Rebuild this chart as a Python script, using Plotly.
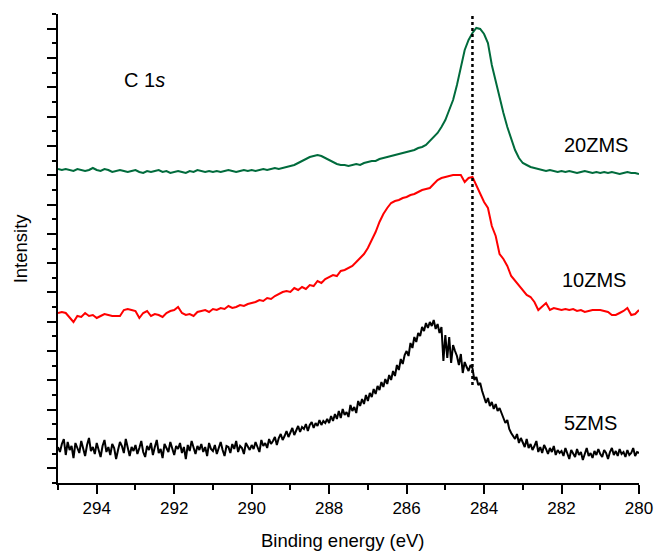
import numpy as np
import plotly.graph_objects as go

# Binding energy grids (eV), high -> low
energy_01 = np.round(np.linspace(295.0, 280.0, 151), 2)
energy_005 = np.round(np.linspace(295.0, 280.0, 301), 3)

# 20ZMS (intensity, a.u.)
zms20 = [
    314, 313, 314, 313, 312, 314, 313, 312, 313, 315,
    313, 312, 314, 313, 311, 312, 313, 312, 311, 312,
    313, 311, 310, 312, 311, 312, 313, 311, 312, 310,
    311, 312, 311, 310, 312, 311, 313, 312, 311, 312,
    311, 312, 311, 312, 313, 312, 311, 312, 313, 312,
    313, 312, 313, 314, 313, 314, 315, 314, 315, 316,
    317, 318, 320, 322, 324, 326, 327, 328, 327, 325,
    323, 321, 319, 318, 318, 317, 318, 319, 318, 320,
    321, 322, 322, 324, 325, 326, 327, 328, 329, 330,
    331, 332, 333, 335, 336, 338, 342, 345, 350, 356,
    363, 373, 383, 398, 416, 433, 443, 450, 455, 454,
    449, 440, 418, 401, 385, 370, 356, 345, 333, 325,
    320, 318, 316, 315, 314, 313, 312, 313, 312, 311,
    312, 311, 312, 311, 310, 311, 312, 311, 310, 311,
    310, 311, 310, 311, 310, 309, 310, 311, 310, 310,
    309,
]

# 10ZMS (intensity, a.u.)
zms10 = [
    170, 171, 170, 165, 161, 167, 166, 170, 167, 168,
    165, 167, 169, 168, 167, 167, 167, 173, 174, 173,
    172, 165, 170, 172, 167, 169, 168, 166, 170, 172,
    173, 176, 170, 168, 169, 167, 171, 172, 173, 171,
    174, 173, 175, 174, 177, 175, 176, 178, 177, 179,
    180, 181, 183, 182, 185, 184, 187, 189, 191, 192,
    191, 195, 193, 196, 194, 198, 197, 202, 200, 204,
    206, 208, 207, 212, 213, 215, 217, 221, 225, 229,
    235, 243, 251, 261, 269, 275, 280, 282, 283, 285,
    286, 288, 289, 291, 293, 294, 295, 299, 303, 305,
    306, 307, 308, 308, 308, 301, 305, 306, 298, 290,
    281, 275, 257, 247, 229, 224, 217, 207, 202, 198,
    193, 188, 186, 181, 173, 177, 180, 173, 175, 174,
    173, 174, 173, 174, 172, 173, 171, 172, 173, 173,
    173, 172, 171, 168, 168, 170, 172, 175, 168, 169,
    173,
]

# 5ZMS (intensity, a.u.)
zms5 = [
    36, 31, 39, 44, 28, 41, 33, 37, 25, 40, 35, 30, 42, 34, 27, 38, 45, 32, 36, 29,
    40, 33, 26, 37, 43, 31, 36, 28, 39, 35, 24, 33, 41, 37, 30, 44, 34, 27, 36, 32,
    38, 29, 35, 42, 31, 26, 37, 33, 40, 28, 36, 43, 30, 34, 25, 39, 35, 31, 41, 33,
    28, 37, 34, 40, 30, 36, 24, 38, 32, 42, 35, 29, 37, 33, 39, 31, 36, 27, 40, 34,
    32, 38, 29, 35, 41, 33, 27, 37, 36, 30, 39, 34, 42, 31, 37, 35, 29, 40, 36, 33,
    38, 34, 41, 36, 31, 43, 37, 40, 35, 44, 39, 42, 46, 38, 45, 49, 43, 47, 52, 46,
    50, 55, 48, 53, 57, 51, 56, 54, 59, 52, 58, 61, 55, 60, 57, 63, 58, 62, 60, 64,
    60, 67, 62, 69, 64, 72, 65, 74, 68, 71, 66, 78, 72, 76, 70, 82, 77, 84, 79, 88,
    82, 90, 86, 94, 89, 97, 93, 101, 96, 104, 99, 108, 103, 112, 107, 118, 113, 124, 119, 128,
    132, 127, 140, 135, 146, 141, 150, 147, 156, 152, 160, 155, 161, 157, 163, 154, 159, 150, 156, 122,
    148, 125, 146, 120, 138, 132, 127, 118, 129, 110, 121, 116, 112, 118, 115, 103, 106, 98, 100, 92,
    86, 80, 85, 77, 81, 74, 79, 72, 75, 70, 66, 60, 63, 54, 50, 47, 44, 49, 40, 45,
    41, 36, 44, 35, 39, 33, 37, 42, 31, 36, 30, 38, 34, 29, 35, 31, 37, 28, 33, 30,
    32, 27, 35, 29, 24, 33, 30, 26, 34, 28, 31, 23, 29, 35, 27, 30, 25, 32, 28, 34,
    29, 26, 33, 30, 24, 31, 35, 28, 32, 27, 34, 29, 31, 26, 33, 28, 30, 35, 27, 31,
    30,
]

x_ticks = [294, 292, 290, 288, 286, 284, 282, 280]
ref_energy = 284.3
y_max = 469
n_yticks = 32

FONT = "Arial, Liberation Sans, Helvetica, sans-serif"

fig = go.Figure()
fig.add_trace(go.Scatter(x=energy_005, y=zms5, mode="lines",
                         line=dict(color="#000000", width=2), name="5ZMS"))
fig.add_trace(go.Scatter(x=energy_01, y=zms10, mode="lines",
                         line=dict(color="#ff0000", width=2), name="10ZMS"))
fig.add_trace(go.Scatter(x=energy_01, y=zms20, mode="lines",
                         line=dict(color="#006b3c", width=2), name="20ZMS"))

fig.add_shape(type="line", xref="x", yref="y", x0=ref_energy, x1=ref_energy,
              y0=98, y1=y_max, line=dict(color="black", width=2.5, dash="3px,3px"))

ann_font = dict(family=FONT, size=20, color="black")
fig.add_annotation(x=293.35, y=403, xref="x", yref="y", text="C 1<i>s</i>",
                   showarrow=False, xanchor="left", yanchor="middle", font=ann_font)
fig.add_annotation(x=282.0, y=338, xref="x", yref="y", text="20ZMS",
                   showarrow=False, xanchor="left", yanchor="middle", font=ann_font)
fig.add_annotation(x=282.04, y=203, xref="x", yref="y", text="10ZMS",
                   showarrow=False, xanchor="left", yanchor="middle", font=ann_font)
fig.add_annotation(x=282.0, y=60, xref="x", yref="y", text="5ZMS",
                   showarrow=False, xanchor="left", yanchor="middle", font=ann_font)

title_font = dict(family=FONT, size=18.5, color="black")
fig.add_annotation(x=0.49, y=-0.122, xref="paper", yref="paper", text="Binding energy (eV)",
                   showarrow=False, xanchor="center", yanchor="middle", font=title_font)
fig.add_annotation(x=-0.064, y=0.5, xref="paper", yref="paper", text="Intensity",
                   textangle=-90, showarrow=False, xanchor="center", yanchor="middle",
                   font=title_font)

step = y_max / n_yticks
fig.update_layout(
    width=657, height=554,
    margin=dict(l=58, r=18, t=14, b=71),
    paper_bgcolor="white", plot_bgcolor="white",
    showlegend=False,
    font=dict(family=FONT, size=17, color="black"),
    xaxis=dict(
        range=[295, 280], tickmode="array", tickvals=x_ticks,
        ticks="outside", ticklen=9, tickwidth=2, tickcolor="black",
        minor=dict(dtick=1, tick0=280, ticks="outside", ticklen=5, tickwidth=2, tickcolor="black"),
        showline=True, linewidth=2, linecolor="black",
        showgrid=False, zeroline=False, automargin=False,
        tickfont=dict(family=FONT, size=17, color="black"),
    ),
    yaxis=dict(
        range=[0, y_max], tickmode="linear", tick0=step, dtick=2 * step,
        ticks="outside", ticklen=9, tickwidth=2, tickcolor="black",
        minor=dict(tick0=0, dtick=step, ticks="outside", ticklen=4, tickwidth=2, tickcolor="black"),
        showticklabels=False, automargin=False,
        showline=True, linewidth=2, linecolor="black",
        showgrid=False, zeroline=False,
    ),
)

fig.write_html("out.html")
